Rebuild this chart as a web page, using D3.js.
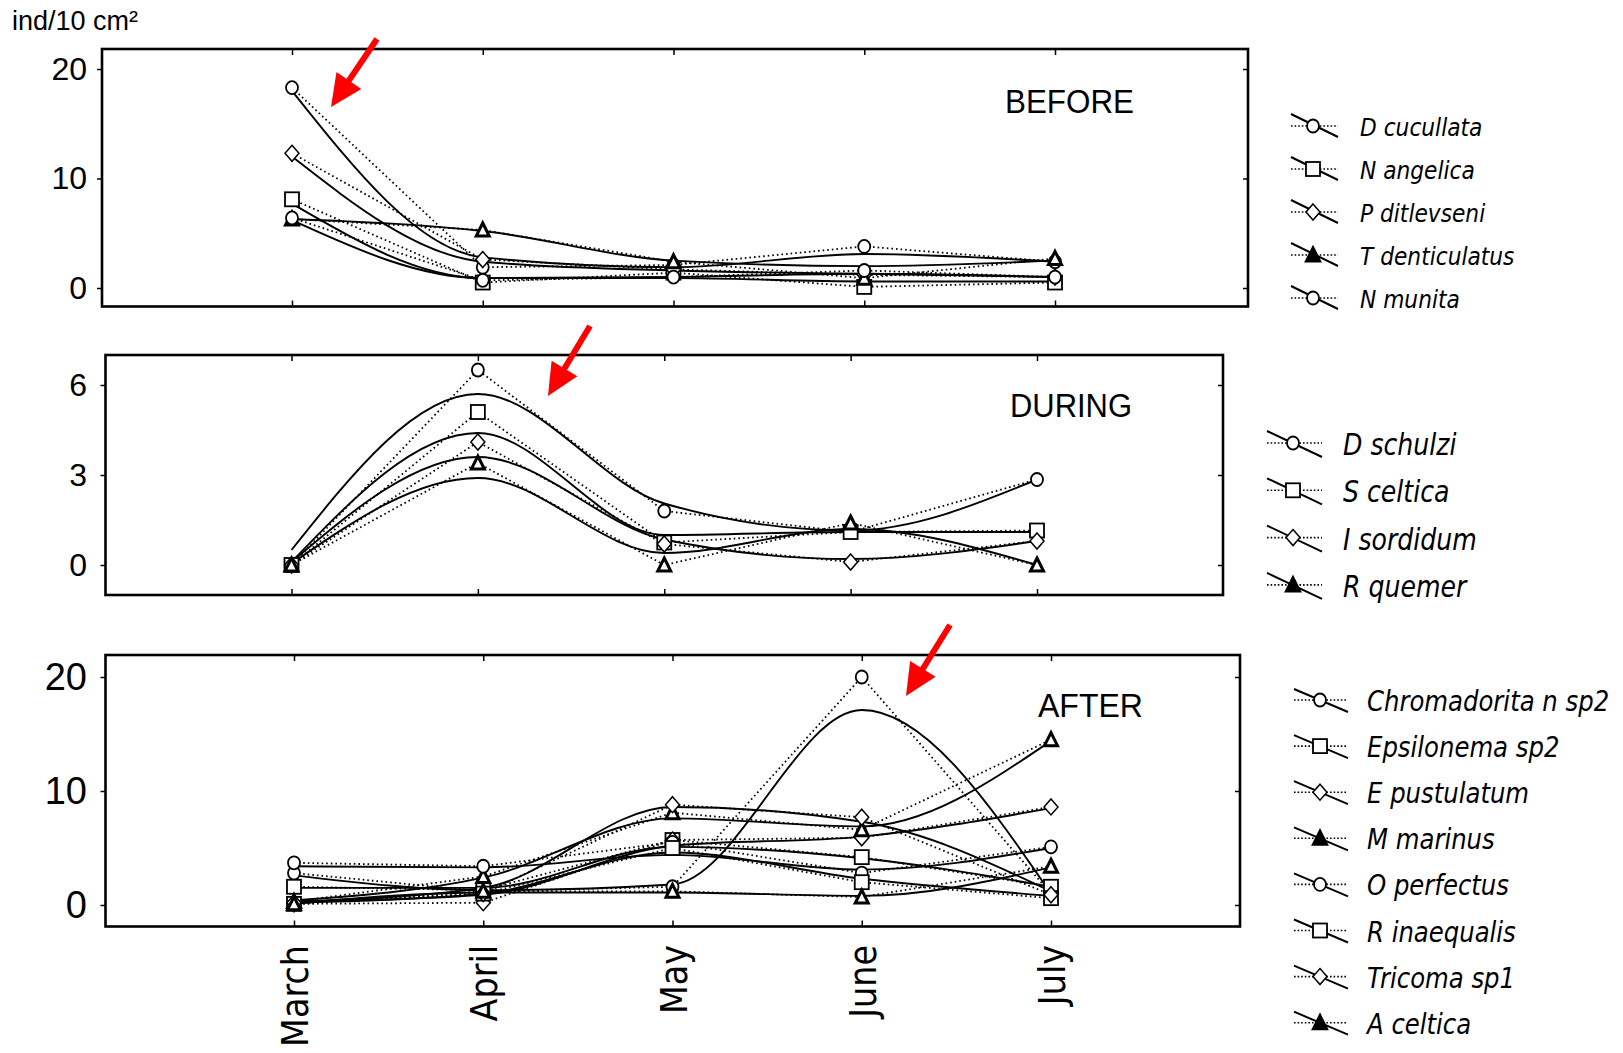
<!DOCTYPE html>
<html>
<head>
<meta charset="utf-8">
<script src="https://cdn.jsdelivr.net/npm/d3@7"></script>
<style>
  body { margin: 0; background: #fff; }
  svg { display: block; }
</style>
</head>
<body>
<svg id="chart" width="1623" height="1053"></svg>
<script>
// ---------------- DATA ----------------
const months = ["March", "April", "May", "June", "July"];
const unitLabel = "ind/10 cm²";

const beforeTitle = "BEFORE";
const beforeNames = ["D cucullata", "N angelica", "P ditlevseni", "T denticulatus", "N munita"];
const beforeSymbols = ["circle", "square", "diamond", "triangle", "circle"];
const beforeTicks = [0, 10, 20];
const beforeValues = [
  [18.3, 1.9, 2.1, 3.8, 2.4],
  [8.1, 0.5, 1.4, 0.1, 0.5],
  [12.3, 2.6, 1.7, 1.2, 1.0],
  [6.3, 5.3, 2.4, 0.9, 2.7],
  [6.4, 0.7, 1.0, 1.6, 1.0]
];
const beforeFits = [
  [18.0, 2.8, 1.9, 3.1, 2.4],
  [7.7, 0.9, 0.9, 0.6, 0.6],
  [12.0, 2.4, 1.6, 1.3, 1.0],
  [6.3, 5.2, 2.5, 2.0, 2.5],
  [6.2, 0.9, 1.0, 1.3, 1.0]
];

const duringTitle = "DURING";
const duringNames = ["D schulzi", "S celtica", "I sordidum", "R quemer"];
const duringSymbols = ["circle", "square", "diamond", "triangle"];
const duringTicks = [0, 3, 6];
const duringValues = [
  [0, 6.5, 1.8, 1.1, 2.85],
  [0, 5.1, 0.75, 1.1, 1.15],
  [0, 4.1, 0.7, 0.1, 0.8],
  [0, 3.4, 0, 1.4, 0]
];
const duringFits = [
  [0.5, 5.7, 2.05, 1.15, 2.85],
  [0.1, 4.4, 1.0, 1.1, 1.1],
  [0.1, 3.6, 0.85, 0.2, 0.8],
  [0.05, 2.9, 0.4, 1.2, 0]
];

const afterTitle = "AFTER";
const afterNames = ["Chromadorita n sp2", "Epsilonema sp2", "E pustulatum", "M marinus",
                    "O perfectus", "R inaequalis", "Tricoma sp1", "A celtica"];
const afterSymbols = ["circle", "square", "diamond", "triangle", "circle", "square", "diamond", "triangle"];
const afterTicks = [0, 10, 20];
const afterValues = [
  [2.8, 1.2, 1.6, 20.0, 1.0],
  [1.6, 1.3, 5.7, 4.2, 1.6],
  [0.1, 0.2, 5.7, 5.9, 8.6],
  [0.3, 2.5, 8.1, 6.6, 14.5],
  [3.7, 3.4, 5.5, 2.8, 5.1],
  [0.1, 1.0, 5.0, 2.0, 0.6],
  [0.2, 1.0, 8.8, 7.7, 0.9],
  [0.1, 1.2, 1.2, 0.7, 3.4]
];
const afterFits = [
  [2.6, 1.3, 1.8, 17.1, 1.0],
  [1.5, 1.5, 5.1, 4.1, 1.6],
  [0.3, 0.9, 5.2, 6.0, 8.5],
  [0.4, 2.4, 7.6, 6.9, 14.4],
  [3.4, 3.3, 4.4, 3.1, 5.0],
  [0.2, 1.0, 4.6, 2.3, 0.8],
  [0.3, 1.5, 8.6, 7.3, 1.2],
  [0.1, 1.1, 1.1, 0.8, 3.3]
];

// ---------------- LAYOUT ----------------
const panels = [
  { title: beforeTitle, names: beforeNames, symbols: beforeSymbols, ticks: beforeTicks,
    values: beforeValues, fits: beforeFits, ymax: 20,
    box: { l: 102, t: 49, r: 1248, b: 306.5 }, xr: [292, 1055], yr: [288, 69],
    titlePos: { x: 1005, y: 113, w: 129 }, tickFont: 32,
    legend: { cx: 1313, x1: 1291, x2: 1338, d1: -12, d2: 11, tx: 1360, y0: 126, step: 43, fs: 25, sx: 0.87, base: 10 },
    arrow: [377, 39, 331, 107] },
  { title: duringTitle, names: duringNames, symbols: duringSymbols, ticks: duringTicks,
    values: duringValues, fits: duringFits, ymax: 6,
    box: { l: 105.5, t: 355, r: 1223, b: 595 }, xr: [291.5, 1037], yr: [565, 385],
    titlePos: { x: 1010, y: 417, w: 122 }, tickFont: 32,
    legend: { cx: 1293, x1: 1267, x2: 1322, d1: -12, d2: 14, tx: 1343, y0: 443, step: 47.3, fs: 30, sx: 0.84, base: 12 },
    arrow: [590, 326, 548, 396] },
  { title: afterTitle, names: afterNames, symbols: afterSymbols, ticks: afterTicks,
    values: afterValues, fits: afterFits, ymax: 20,
    box: { l: 105.5, t: 655, r: 1240, b: 926.5 }, xr: [294, 1051], yr: [905, 677],
    titlePos: { x: 1038, y: 717, w: 105 }, tickFont: 38,
    legend: { cx: 1320, x1: 1294, x2: 1348, d1: -11, d2: 12, tx: 1367, y0: 700, step: 46.1, fs: 28, sx: 0.87, base: 11 },
    arrow: [950, 625, 906, 696] }
];

const svg = d3.select("#chart");

svg.append("text")
  .attr("x", 12).attr("y", 30)
  .attr("font-family", "'Liberation Sans', Arial, sans-serif")
  .attr("font-size", 27)
  .attr("fill", "#000")
  .text(unitLabel);

function drawSymbol(g, type, x, y, legend) {
  const sw = 1.8;
  if (type === "circle") {
    g.append("ellipse").attr("cx", x).attr("cy", y).attr("rx", 6).attr("ry", 6.5)
      .attr("fill", "#fff").attr("stroke", "#000").attr("stroke-width", sw);
  } else if (type === "square") {
    g.append("rect").attr("x", x - 7).attr("y", y - 7).attr("width", 14).attr("height", 14)
      .attr("fill", "#fff").attr("stroke", "#000").attr("stroke-width", sw);
  } else if (type === "diamond") {
    g.append("path").attr("d", `M${x},${y - 8}L${x + 7},${y}L${x},${y + 8}L${x - 7},${y}Z`)
      .attr("fill", "#fff").attr("stroke", "#000").attr("stroke-width", 1.5);
  } else if (type === "triangle") {
    g.append("path").attr("d", `M${x},${y - 7}L${x + 6.5},${y + 6}L${x - 6.5},${y + 6}Z`)
      .attr("fill", legend ? "#000" : "#fff").attr("stroke", "#000").attr("stroke-width", 3)
      .attr("stroke-linejoin", "miter");
  }
}

panels.forEach(p => {
  const g = svg.append("g");
  const x = d3.scalePoint().domain(months).range(p.xr);
  const y = d3.scaleLinear().domain([0, p.ymax]).range(p.yr);
  const B = p.box;

  // Frame
  g.append("rect").attr("x", B.l).attr("y", B.t).attr("width", B.r - B.l).attr("height", B.b - B.t)
    .attr("fill", "none").attr("stroke", "#000").attr("stroke-width", 2.6);

  // Y axis (left, outward ticks + labels)
  const yAxis = d3.axisLeft(y).tickValues(p.ticks).tickFormat(d3.format("d"))
    .tickSize(5).tickPadding(B.l - 87 - 5);
  const ya = g.append("g").attr("transform", `translate(${B.l},0)`).call(yAxis);
  ya.select(".domain").remove();
  ya.selectAll(".tick line").attr("stroke-width", 1.5);
  ya.selectAll(".tick text")
    .attr("font-family", "'Liberation Sans', Arial, sans-serif")
    .attr("font-size", p.tickFont).attr("fill", "#000");

  // Right inner ticks
  const yr = g.append("g").attr("transform", `translate(${B.r},0)`).call(d3.axisLeft(y).tickValues(p.ticks).tickSize(5).tickFormat(""));
  yr.select(".domain").remove();
  yr.selectAll(".tick line").attr("stroke-width", 1.5);

  // Top & bottom inner ticks
  const xt = g.append("g").attr("transform", `translate(0,${B.t})`).call(d3.axisTop(x).tickSize(-6).tickFormat(""));
  xt.select(".domain").remove();
  xt.selectAll(".tick line").attr("stroke-width", 1.5);
  const xb = g.append("g").attr("transform", `translate(0,${B.b})`).call(d3.axisBottom(x).tickSize(-6).tickFormat(""));
  xb.select(".domain").remove();
  xb.selectAll(".tick line").attr("stroke-width", 1.5);

  // Lines
  const dotted = d3.line().x((d, i) => x(months[i])).y(d => y(d));
  const smooth = d3.line().x((d, i) => x(months[i])).y(d => y(d)).curve(d3.curveMonotoneX);
  const lines = g.append("g");
  p.values.forEach((vals, s) => {
    lines.append("path").attr("d", dotted(vals)).attr("fill", "none")
      .attr("stroke", "#000").attr("stroke-width", 1.8).attr("stroke-dasharray", "1.6,3");
    lines.append("path").attr("d", smooth(p.fits[s])).attr("fill", "none")
      .attr("stroke", "#000").attr("stroke-width", 1.9);
  });

  // Markers
  const mk = g.append("g");
  p.values.forEach((vals, s) => {
    vals.forEach((v, i) => drawSymbol(mk, p.symbols[s], x(months[i]), y(v), false));
  });

  // Title
  g.append("text").attr("x", p.titlePos.x).attr("y", p.titlePos.y)
    .attr("font-family", "'Liberation Sans', Arial, sans-serif")
    .attr("font-size", 33).attr("fill", "#000")
    .attr("textLength", p.titlePos.w).attr("lengthAdjust", "spacingAndGlyphs")
    .text(p.title);

  // Legend
  const L = p.legend;
  const lg = svg.append("g");
  p.names.forEach((name, s) => {
    const cy = L.y0 + s * L.step;
    lg.append("line").attr("x1", L.x1).attr("x2", L.x2).attr("y1", cy).attr("y2", cy)
      .attr("stroke", "#000").attr("stroke-width", 1.6).attr("stroke-dasharray", "1.6,2");
    lg.append("line").attr("x1", L.x1).attr("x2", L.x2).attr("y1", cy + L.d1).attr("y2", cy + L.d2)
      .attr("stroke", "#000").attr("stroke-width", 2);
    drawSymbol(lg, p.symbols[s], L.cx, cy, true);
    lg.append("text")
      .attr("transform", `translate(${L.tx},${cy + L.base}) scale(${L.sx},1)`)
      .attr("font-family", "'DejaVu Sans', Verdana, sans-serif")
      .attr("font-style", "italic")
      .attr("font-size", L.fs).attr("fill", "#000")
      .text(name);
  });

  // Red arrow
  const [ax0, ay0, ax1, ay1] = p.arrow;
  const dx = ax1 - ax0, dy = ay1 - ay0, len = Math.hypot(dx, dy);
  const ux = dx / len, uy = dy / len, nx = -uy, ny = ux;
  const hl = 32, hw = 15;
  const bx = ax1 - ux * hl, by = ay1 - uy * hl;
  svg.append("line").attr("x1", ax0).attr("y1", ay0).attr("x2", bx + ux * 2).attr("y2", by + uy * 2)
    .attr("stroke", "#ff0000").attr("stroke-width", 6);
  svg.append("path")
    .attr("d", `M${ax1},${ay1}L${bx + nx * hw},${by + ny * hw}L${bx - nx * hw},${by - ny * hw}Z`)
    .attr("fill", "#ff0000");

  // Month labels on the last panel
  if (p === panels[panels.length - 1]) {
    months.forEach(m => {
      svg.append("text")
        .attr("transform", `translate(${x(m) + 14},945) rotate(-90) scale(0.88,1)`)
        .attr("text-anchor", "end")
        .attr("font-family", "'DejaVu Sans', Verdana, sans-serif")
        .attr("font-size", 38).attr("fill", "#000")
        .text(m);
    });
  }
});
</script>
</body>
</html>
